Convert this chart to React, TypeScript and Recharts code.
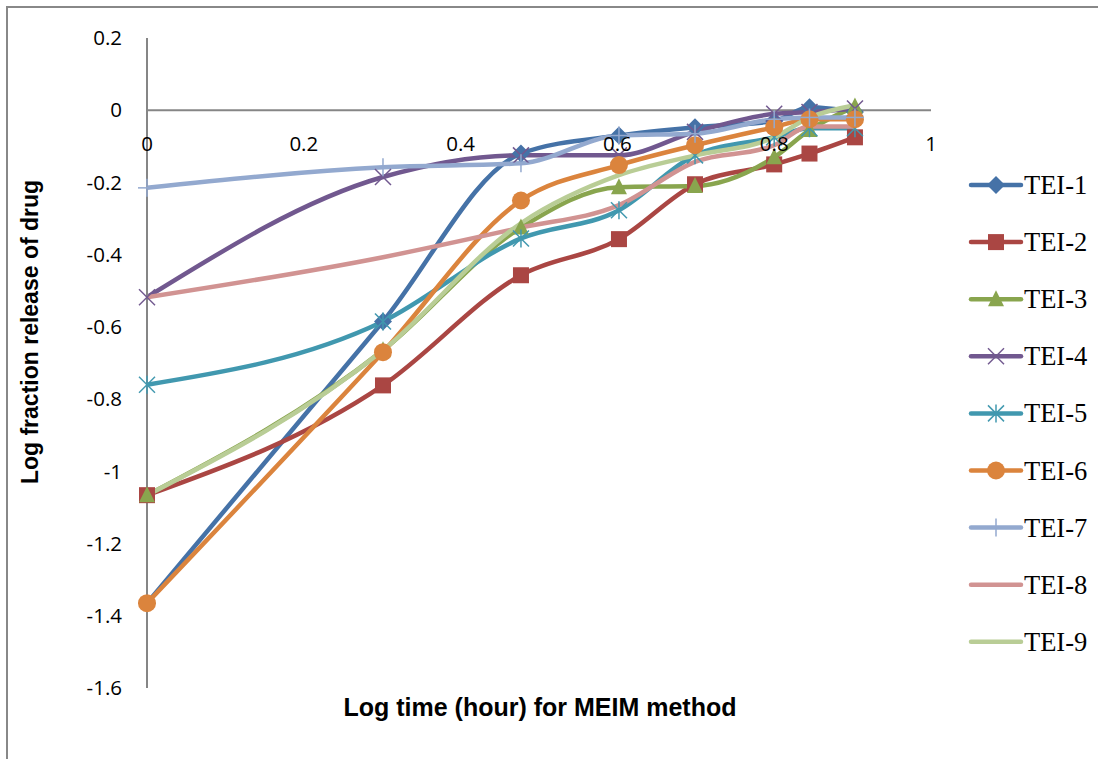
import { LineChart, Line, XAxis, YAxis, ReferenceLine } from 'recharts'

const LOG_TIME = [0, 0.301, 0.477, 0.602, 0.699, 0.8, 0.845, 0.903]

const TEI_1 = [-1.365, -0.585, -0.12, -0.07, -0.047, -0.03, 0.008, -0.005]
const TEI_2 = [-1.066, -0.762, -0.457, -0.357, -0.205, -0.15, -0.12, -0.075]
const TEI_3 = [-1.066, -0.665, -0.325, -0.213, -0.21, -0.13, -0.055, 0.01]
const TEI_4 = [-0.518, -0.185, -0.125, -0.125, -0.06, -0.01, -0.005, 0.005]
const TEI_5 = [-0.76, -0.585, -0.355, -0.277, -0.125, -0.075, -0.05, -0.05]
const TEI_6 = [-1.365, -0.67, -0.25, -0.152, -0.097, -0.047, -0.025, -0.025]
const TEI_7 = [-0.215, -0.158, -0.147, -0.07, -0.065, -0.025, -0.02, -0.02]
const TEI_8 = [-0.518, -0.407, -0.325, -0.263, -0.143, -0.097, -0.045, -0.045]
const TEI_9 = [-1.066, -0.665, -0.313, -0.18, -0.125, -0.075, -0.02, 0.014]

const X_TICKS = [0, 0.2, 0.4, 0.6, 0.8, 1]
const Y_TICKS = [-1.6, -1.4, -1.2, -1, -0.8, -0.6, -0.4, -0.2, 0, 0.2]

type Shape = 'diamond' | 'square' | 'triangle' | 'x' | 'star' | 'circle' | 'plus' | 'none'

const SERIES: { name: string; values: number[]; color: string; shape: Shape }[] = [
  { name: 'TEI-1', values: TEI_1, color: '#4572A7', shape: 'diamond' },
  { name: 'TEI-2', values: TEI_2, color: '#AA4643', shape: 'square' },
  { name: 'TEI-3', values: TEI_3, color: '#89A54E', shape: 'triangle' },
  { name: 'TEI-4', values: TEI_4, color: '#71588F', shape: 'x' },
  { name: 'TEI-5', values: TEI_5, color: '#4198AF', shape: 'star' },
  { name: 'TEI-6', values: TEI_6, color: '#DB843D', shape: 'circle' },
  { name: 'TEI-7', values: TEI_7, color: '#93A9CF', shape: 'plus' },
  { name: 'TEI-8', values: TEI_8, color: '#D19392', shape: 'none' },
  { name: 'TEI-9', values: TEI_9, color: '#B9CD96', shape: 'none' },
]

const chartData = LOG_TIME.map((t, i) => {
  const row: Record<string, number> = { t }
  SERIES.forEach((s) => { row[s.name] = s.values[i] })
  return row
})

// plot box inside the 1098x759 frame
const W = 1098
const H = 759
const PLOT_LEFT = 147
const PLOT_TOP = 38
const PLOT_W = 784
const PLOT_H = 650
const ZERO_Y = PLOT_TOP + PLOT_H * (0.2 / 1.8)
const Y_AXIS_W = 80

const TICK_FONT = "'Open Sans', sans-serif"
const TITLE_FONT = "'Liberation Sans', Arial, sans-serif"

function Marker({ shape, color, cx, cy }: { shape: Shape; color: string; cx: number; cy: number }) {
  if (cx == null || cy == null) return null
  switch (shape) {
    case 'diamond':
      return <path d={`M${cx},${cy - 9} L${cx + 9},${cy} L${cx},${cy + 9} L${cx - 9},${cy} Z`} fill={color} />
    case 'square':
      return <rect x={cx - 8} y={cy - 8} width={16} height={16} fill={color} />
    case 'triangle':
      return <path d={`M${cx},${cy - 9} L${cx + 8},${cy + 7} L${cx - 8},${cy + 7} Z`} fill={color} />
    case 'x':
      return (
        <g stroke={color} strokeWidth={1.5}>
          <line x1={cx - 8} y1={cy - 8} x2={cx + 8} y2={cy + 8} />
          <line x1={cx - 8} y1={cy + 8} x2={cx + 8} y2={cy - 8} />
        </g>
      )
    case 'star':
      return (
        <g stroke={color} strokeWidth={1.5}>
          <line x1={cx - 8} y1={cy - 8} x2={cx + 8} y2={cy + 8} />
          <line x1={cx - 8} y1={cy + 8} x2={cx + 8} y2={cy - 8} />
          <line x1={cx} y1={cy - 9} x2={cx} y2={cy + 9} />
        </g>
      )
    case 'circle':
      return <circle cx={cx} cy={cy} r={9} fill={color} />
    case 'plus':
      return (
        <g stroke={color} strokeWidth={1.5}>
          <line x1={cx} y1={cy - 9} x2={cx} y2={cy + 9} />
          <line x1={cx - 9} y1={cy} x2={cx + 9} y2={cy} />
        </g>
      )
    default:
      return null
  }
}

// x labels sit just under the zero line, as in the source chart
function XTick(props: any) {
  const { x, payload } = props
  return (
    <text x={x} y={ZERO_Y + 41} textAnchor="middle" fontSize={20.5} fontFamily={TICK_FONT} fill="#000">
      {payload.value}
    </text>
  )
}

function LegendBox() {
  return (
    <svg width={134} height={520} style={{ position: 'absolute', left: 964, top: 160 }}>
      {SERIES.map((s, i) => {
        const cy = 25 + i * 57.1
        return (
          <g key={s.name}>
            <line x1={7} y1={cy} x2={57} y2={cy} stroke={s.color} strokeWidth={4.5} strokeLinecap="round" />
            <Marker shape={s.shape} color={s.color} cx={32} cy={cy} />
            <text x={60} y={cy + 9} fontSize={26.5} fontFamily="'Liberation Serif', serif" fill="#000">{s.name}</text>
          </g>
        )
      })}
    </svg>
  )
}

export default function App() {
  return (
    <div style={{ position: 'absolute', left: 0, top: 0, width: W, height: H, background: '#fff', overflow: 'hidden' }}>
      <div style={{ position: 'absolute', left: 6, top: 6, width: W, height: H, border: '2px solid #888', boxSizing: 'border-box' }} />
      <div style={{ position: 'absolute', left: 0, top: 0 }}>
        <LineChart
          width={W}
          height={H}
          data={chartData}
          margin={{ top: PLOT_TOP, right: W - PLOT_LEFT - PLOT_W, bottom: 0, left: PLOT_LEFT - Y_AXIS_W }}
        >
          <XAxis
            dataKey="t"
            type="number"
            domain={[0, 1]}
            ticks={X_TICKS}
            axisLine={false}
            tickLine={false}
            tick={<XTick />}
            height={H - PLOT_TOP - PLOT_H}
            interval={0}
          />
          <YAxis
            type="number"
            domain={[-1.6, 0.2]}
            ticks={Y_TICKS}
            width={Y_AXIS_W}
            axisLine={{ stroke: '#868686', strokeWidth: 2 }}
            tickLine={false}
            tickSize={0}
            tickMargin={25}
            interval={0}
            tick={{ fontSize: 20.5, fill: '#000', fontFamily: TICK_FONT }}
          />
          <ReferenceLine y={0} stroke="#868686" strokeWidth={2} />
          {SERIES.map((s) => (
            <Line
              key={s.name}
              type="monotone"
              dataKey={s.name}
              stroke={s.color}
              strokeWidth={4.5}
              dot={(p: any) => <Marker key={`${s.name}-${p.index}`} shape={s.shape} color={s.color} cx={p.cx} cy={p.cy} />}
              activeDot={false}
              isAnimationActive={false}
            />
          ))}
        </LineChart>
      </div>
      <LegendBox />
      <div
        style={{
          position: 'absolute',
          left: 30,
          top: 332,
          transform: 'translate(-50%, -50%) rotate(-90deg)',
          whiteSpace: 'nowrap',
          fontSize: 23,
          fontWeight: 'bold',
          fontFamily: TITLE_FONT,
        }}
      >
        Log fraction release of drug
      </div>
      <div
        style={{
          position: 'absolute',
          left: 340,
          width: 400,
          top: 693,
          textAlign: 'center',
          whiteSpace: 'nowrap',
          fontSize: 25,
          fontWeight: 'bold',
          fontFamily: TITLE_FONT,
        }}
      >
        Log time (hour) for MEIM method
      </div>
    </div>
  )
}
